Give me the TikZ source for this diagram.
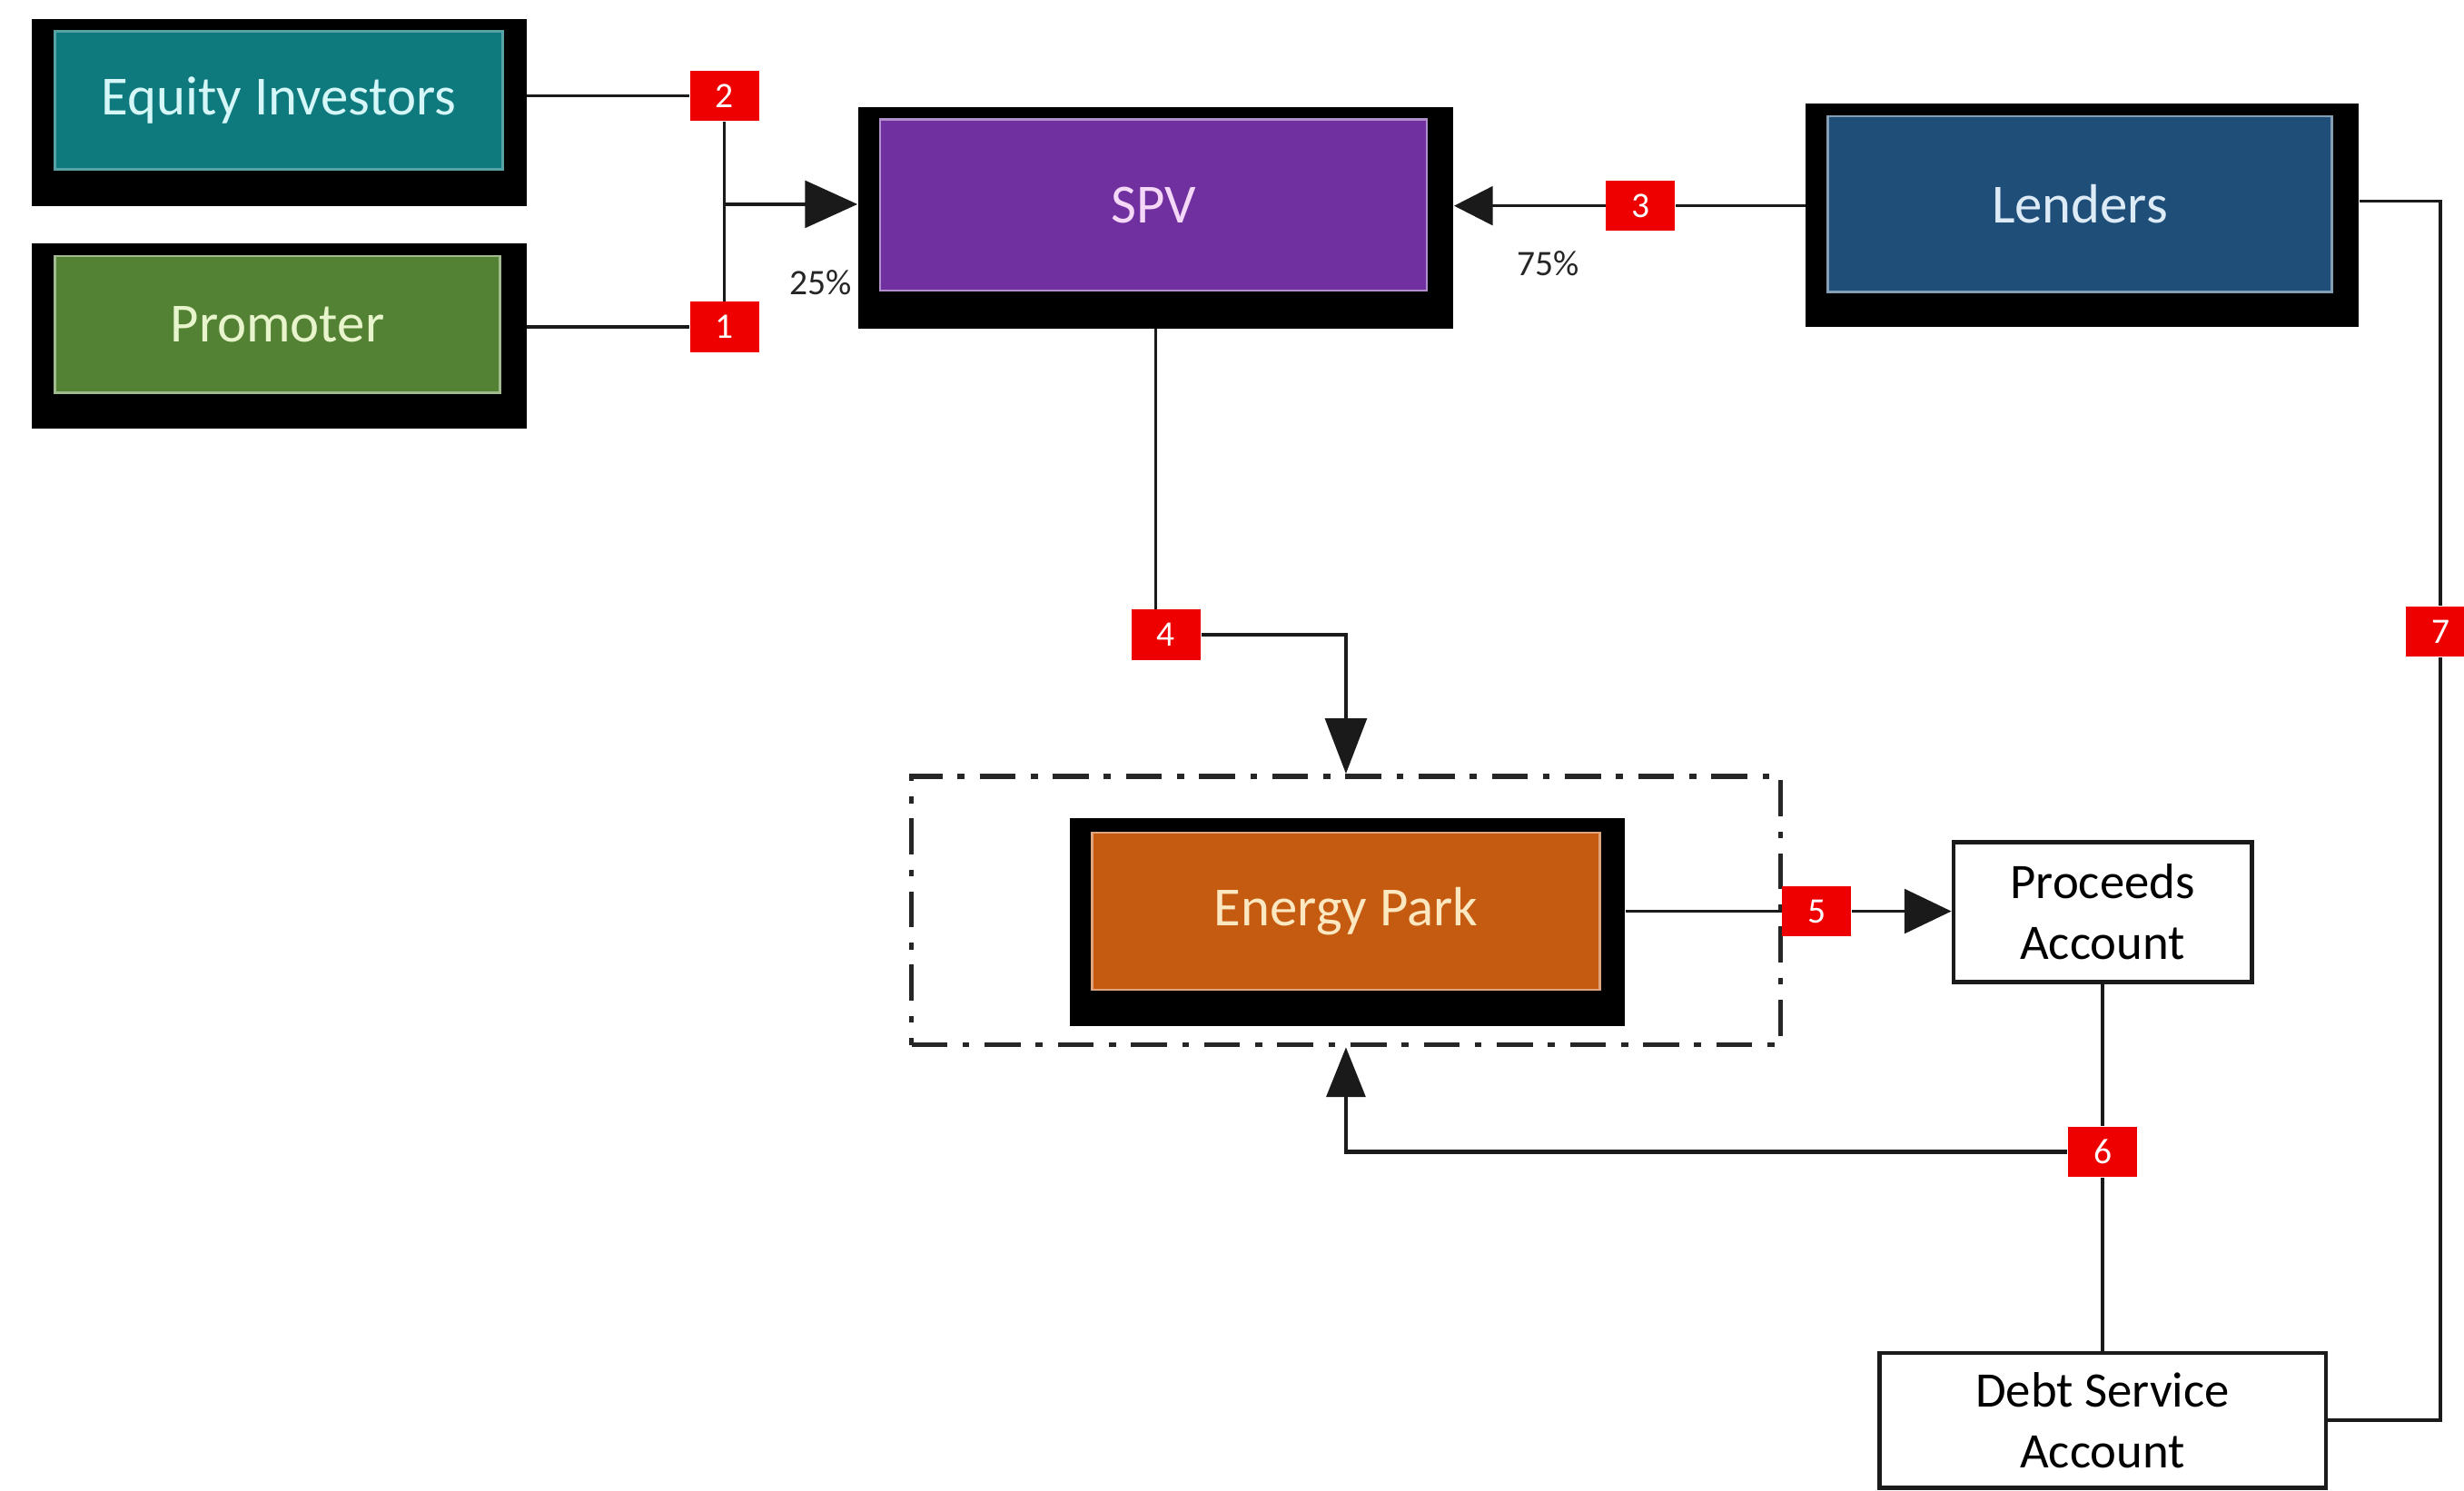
\documentclass[tikz,border=0pt]{standalone}
\usepackage{fontspec}
\setmainfont{Carlito}
\usetikzlibrary{arrows.meta}
\definecolor{cteal}{HTML}{0F7A7E}
\definecolor{cgreen}{HTML}{548235}
\definecolor{cpurple}{HTML}{7030A0}
\definecolor{cblue}{HTML}{1F4E79}
\definecolor{corange}{HTML}{C55A11}
\definecolor{cbadge}{HTML}{EE0000}
\definecolor{tteal}{HTML}{D5F7F7}
\definecolor{tgreen}{HTML}{E8F5CC}
\definecolor{tpurple}{HTML}{F5D8F8}
\definecolor{tblue}{HTML}{DDEBF7}
\definecolor{torange}{HTML}{FCE8C0}
\definecolor{cline}{HTML}{1A1A1A}
\tikzset{
  outerbox/.style={fill=black, draw=none, inner sep=0pt},
  innerbox/.style={line width=0.9pt, inner sep=0pt, font=\fontsize{20}{24}\selectfont},
  plainbox/.style={draw=cline, line width=1.4pt, fill=white, inner sep=0pt, align=center, font=\fontsize{18}{22}\selectfont},
  badge/.style={fill=cbadge, draw=none, text=white, inner sep=0pt, minimum width=0.88cm, minimum height=0.64cm, font=\fontsize{13}{13}\selectfont},
  conn/.style={draw=cline, line width=1.2pt},
  pct/.style={inner sep=0pt, font=\fontsize{13}{13}\selectfont, text=black!85},
  dashbox/.style={draw=black!85, line width=1.8pt, dash pattern=on 13pt off 5.5pt on 2.5pt off 5.5pt, inner sep=0pt}
}
\begin{document}
\begin{tikzpicture}[x=0.02cm,y=-0.02cm]
\useasboundingbox (0,0) rectangle (1568,949);
\fill[white] (0,0) rectangle (1568,949);

% Equity Investors
\node[outerbox, minimum width=6.3cm, minimum height=2.38cm] (eqo) at (177.5,71.5) {};
\node[innerbox, fill=cteal, draw=cteal!70!white, text=tteal, minimum width=5.7cm, minimum height=1.76cm] (eqi) at (177.5,64) {Equity Investors};
% Promoter
\node[outerbox, minimum width=6.3cm, minimum height=2.36cm] (pro) at (177.5,214) {};
\node[innerbox, fill=cgreen, draw=cgreen!55!white, text=tgreen, minimum width=5.66cm, minimum height=1.74cm] (pri) at (176.5,206.5) {Promoter};
% SPV
\node[outerbox, minimum width=7.58cm, minimum height=2.82cm] (spvo) at (735.5,138.5) {};
\node[innerbox, fill=cpurple, draw=cpurple!55!white, text=tpurple, minimum width=6.96cm, minimum height=2.18cm] (spvi) at (734,130.5) {SPV};
% Lenders
\node[outerbox, minimum width=7.04cm, minimum height=2.84cm] (leno) at (1325,137) {};
\node[innerbox, fill=cblue, draw=cblue!55!white, text=tblue, minimum width=6.42cm, minimum height=2.24cm] (leni) at (1323.5,130) {Lenders};
% Energy Park group
\node[dashbox, minimum width=11.06cm, minimum height=3.42cm] (grp) at (856.5,579.5) {};
\node[outerbox, minimum width=7.06cm, minimum height=2.64cm] (eno) at (857.5,587) {};
\node[innerbox, fill=corange, draw=corange!55!white, text=torange, minimum width=6.46cm, minimum height=2.0cm] (eni) at (856.5,580) {Energy Park};
% Accounts
\node[plainbox, minimum width=3.8cm, minimum height=1.78cm] (proc) at (1338,580.5) {Proceeds\\Account};
\node[plainbox, minimum width=5.68cm, minimum height=1.72cm] (debt) at (1338,904) {Debt Service\\Account};

% Badges
\node[badge] (b2) at (461,61) {2};
\node[badge] (b1) at (461,208) {1};
\node[badge] (b3) at (1044,131) {3};
\node[badge] (b4) at (742,404) {4};
\node[badge] (b5) at (1156,580) {5};
\node[badge] (b6) at (1338,733) {6};
\node[badge] (b7) at (1553,402) {7};

% Percent labels
\node[pct] (p25) at (522,180) {25\%};
\node[pct] (p75) at (985,168) {75\%};

% Connectors
\coordinate (j1) at (461,130);
\coordinate (c7) at (1553,128);
\draw[conn] (eqo.east |- b2) -- (b2.west);
\draw[conn] (pro.east |- b1) -- (b1.west);
\draw[conn] (b2.south) -- (b1.north);
\draw[conn, -{Triangle[length=19pt,width=17pt]}] (j1) -- (spvo.west |- j1);
\draw[conn] (leno.west |- b3) -- (b3.east);
\draw[conn, -{Triangle[length=14pt,width=14pt]}] (b3.west) -- (spvo.east |- b3);
\draw[conn] (spvo.south) -- (spvo.south |- b4.north);
\draw[conn, -{Triangle[length=20pt,width=15pt]}] (b4.east) -| (grp.north);
\draw[conn] (eno.east |- b5) -- (b5.west);
\draw[conn, -{Triangle[length=17pt,width=16pt]}] (b5.east) -- (proc.west |- b5);
\draw[conn] (proc.south) -- (b6.north);
\draw[conn] (b6.south) -- (debt.north);
\draw[conn, line width=1.5pt, -{Triangle[length=18pt,width=14pt]}] (b6.west) -| (grp.south);
\draw[conn] (leno.east |- c7) -- (c7) -- (b7.north);
\draw[conn, line width=1.4pt] (b7.south) |- (debt.east);
\end{tikzpicture}
\end{document}
